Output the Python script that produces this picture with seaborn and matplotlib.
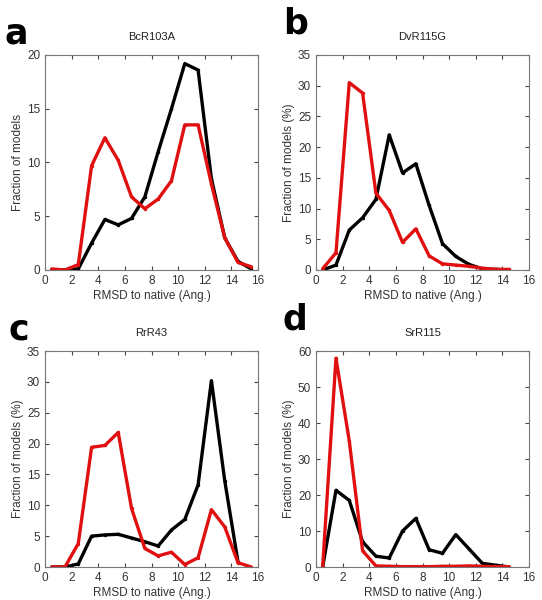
import matplotlib
matplotlib.use("Agg")
import matplotlib.pyplot as plt
import numpy as np
import pandas as pd
import seaborn as sns

# RMSD bin centres
rmsd = [0.5, 1.5, 2.5, 3.5, 4.5, 5.5, 6.5, 7.5, 8.5, 9.5, 10.5, 11.5, 12.5, 13.5, 14.5, 15.5]

# panel a: BcR103A
a_black = [0, 0, 0.1, 2.5, 4.7, 4.2, 4.8, 6.8, 11.0, 15.0, 19.2, 18.6, 8.5, 3.0, 0.8, 0.1]
a_red = [0.1, 0, 0.5, 9.7, 12.3, 10.2, 6.8, 5.7, 6.6, 8.3, 13.5, 13.5, 8.0, 3.0, 0.7, 0.3]

# panel b: DvR115G
b_black = [0, 0.8, 6.5, 8.5, 11.5, 22.0, 15.8, 17.3, 10.5, 4.3, 2.2, 0.9, 0.2, 0.1, 0]
b_red = [0.2, 2.8, 30.5, 28.8, 12.5, 9.7, 4.5, 6.7, 2.3, 1.0, 0.8, 0.6, 0.3, 0.1, 0.1]

# panel c: RrR43
c_black = [0, 0, 0.5, 5.0, 5.2, 5.3, 4.7, 4.1, 3.4, 6.0, 7.7, 13.3, 30.2, 14.0, 0.8]
c_red = [0, 0, 3.8, 19.4, 19.7, 21.8, 9.5, 3.0, 1.8, 2.4, 0.4, 1.5, 9.3, 6.5, 0.7, 0]

# panel d: SrR115
d_black = [0, 21.3, 18.5, 7.0, 3.0, 2.5, 10.0, 13.5, 4.8, 3.8, 9.0, 5.0, 1.0, 0.5, 0]
d_red = [0, 58.0, 35.0, 4.5, 0.3, 0.2, 0.1, 0.1, 0.1, 0.2, 0.2, 0.3, 0.2, 0.1, 0.1]

panels = [
    ("a", "BcR103A", "Fraction of models", 20, 5, a_black, a_red),
    ("b", "DvR115G", "Fraction of models (%)", 35, 5, b_black, b_red),
    ("c", "RrR43", "Fraction of models (%)", 35, 5, c_black, c_red),
    ("d", "SrR115", "Fraction of models (%)", 60, 10, d_black, d_red),
]

sns.set_style("ticks")
plt.rcParams["font.family"] = ["Liberation Sans", "DejaVu Sans"]

fig = plt.figure(figsize=(5.42, 6.0), dpi=100)
W, H = 542, 600
# axes boxes in pixels (left, top, right, bottom) and panel letter baselines (x, y)
boxes = [(45, 55, 258, 270), (316, 55, 529, 270), (45, 351, 258, 567), (316, 351, 529, 567)]
letters_at = [(5, 44), (283, 34), (8, 340), (283, 330)]

for (letter, title, ylabel, ymax, ystep, black, red), (x0, y0, x1, y1), (lx, ly) in zip(panels, boxes, letters_at):
    ax = fig.add_axes([x0 / W, 1 - y1 / H, (x1 - x0) / W, (y1 - y0) / H])
    df = pd.concat([
        pd.DataFrame({"rmsd": rmsd[:len(black)], "frac": black, "set": "black"}),
        pd.DataFrame({"rmsd": rmsd[:len(red)], "frac": red, "set": "red"}),
    ])
    sns.lineplot(data=df, x="rmsd", y="frac", hue="set",
                 palette={"black": "#000000", "red": "#e01010"},
                 linewidth=2.4, marker="o", markersize=2.5, markeredgewidth=0,
                 legend=False, ax=ax)
    ax.set_xlim(0, 16)
    ax.set_ylim(0, ymax)
    ax.set_xticks(np.arange(0, 17, 2))
    ax.set_yticks(np.arange(0, ymax + 1, ystep))
    ax.tick_params(direction="in", top=True, right=True, length=3,
                   labelsize=8.5, colors="#444444", labelcolor="#333333")
    for s in ax.spines.values():
        s.set_color("#777777")
        s.set_linewidth(0.8)
    ax.set_xlabel("RMSD to native (Ang.)", fontsize=8.5, color="#333333", labelpad=2)
    ax.set_ylabel(ylabel, fontsize=8.5, color="#333333", labelpad=2)
    ax.set_title(title, fontsize=8, color="#222222", pad=11)
    fig.text(lx / W, 1 - ly / H, letter, fontsize=25, fontweight="heavy",
             color="black", va="baseline", ha="left", family="DejaVu Sans")

fig.savefig("out.png", dpi=100)
